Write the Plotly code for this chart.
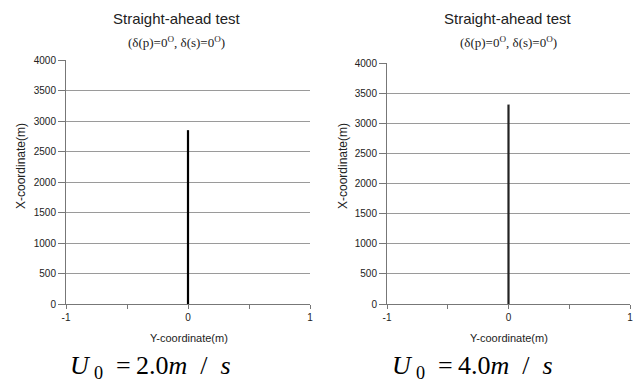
import plotly.graph_objects as go

# Data
y_coord_left = [0, 0]
x_coord_left = [0, 2850]
y_coord_right = [0, 0]
x_coord_right = [0, 3310]
x_tickvals = [-1, 0, 1]
x_ticktext = ["-1", "0", "1"]
y_tickvals = [0, 500, 1000, 1500, 2000, 2500, 3000, 3500, 4000]
title_text = "Straight-ahead test"
subtitle_text = "(δ(p)=0<sup>O</sup>, δ(s)=0<sup>O</sup>)"
speed_labels = ["2.0", "4.0"]

W, H = 641, 385
fig = go.Figure()

fig.add_trace(go.Scatter(x=y_coord_left, y=x_coord_left, mode="lines",
                         line=dict(color="black", width=2.2), xaxis="x", yaxis="y",
                         showlegend=False, hoverinfo="skip"))
fig.add_trace(go.Scatter(x=y_coord_right, y=x_coord_right, mode="lines",
                         line=dict(color="#222", width=2.2), xaxis="x2", yaxis="y2",
                         showlegend=False, hoverinfo="skip"))

axfont = dict(family="Liberation Sans, Arial", size=10, color="#222")
sans = "Liberation Sans, Arial"
serif = "Liberation Serif, Times New Roman"


def xax(domain, anchor):
    return dict(domain=domain, anchor=anchor, range=[-1, 1], tickvals=x_tickvals,
                ticktext=x_ticktext,
                ticks="outside", ticklen=4, tickcolor="#777", showline=True,
                linecolor="#777", linewidth=1, showgrid=False, zeroline=False,
                minor=dict(dtick=0.5, tick0=0, ticks="outside", ticklen=4, tickcolor="#777", showgrid=False),
                tickfont=axfont, fixedrange=True, automargin=False)


def yax(domain, anchor):
    return dict(domain=domain, anchor=anchor, range=[0, 4000], tickvals=y_tickvals,
                ticks="outside", ticklen=7, tickcolor="#777", showline=True,
                linecolor="#777", linewidth=1, showgrid=True, gridcolor="#9a9a9a",
                gridwidth=1, zeroline=False, tickfont=axfont, fixedrange=True, automargin=False)


fig.update_layout(
    width=W, height=H,
    margin=dict(l=0, r=0, t=0, b=0, pad=0, autoexpand=False),
    paper_bgcolor="white", plot_bgcolor="white",
    xaxis=xax([66 / W, 310 / W], "y"),
    yaxis=yax([(H - 304) / H, (H - 60) / H], "x"),
    xaxis2=xax([387 / W, 630 / W], "y2"),
    yaxis2=yax([(H - 304) / H, (H - 63) / H], "x2"),
)


def ann(x, y, text, font, angle=0):
    fig.add_annotation(x=x / W, y=(H - y) / H, xref="paper", yref="paper", text=text,
                       showarrow=False, xanchor="center", yanchor="middle",
                       textangle=angle, font=font)


for cx in [177, 508]:
    ann(cx, 18, title_text, dict(family=sans, size=15, color="#222"))
    ann(cx, 42, subtitle_text, dict(family=serif, size=13, color="#222"))

for cx in [189, 509]:
    ann(cx, 338, "Y-coordinate(m)", dict(family=sans, size=11, color="#222"))

for cx in [21, 343]:
    ann(cx, 166, "X-coordinate(m)", dict(family=sans, size=12, color="#222"), angle=-90)

sp = "\u2002"
thin = "\u2009"
for cx, s in zip([150, 472], speed_labels):
    txt = ("<i>U</i>" + thin + "<sub>0</sub>" + sp + "=" + thin + s[0] + "." + s[2]
           + "<i>m</i>" + sp + "/" + sp + "<i>s</i>")
    ann(cx, 367, txt, dict(family=serif, size=26, color="black"))

fig.write_html("out.html", config={"displayModeBar": False},
               post_script="document.body.style.margin='0';document.body.style.overflow='hidden';")
